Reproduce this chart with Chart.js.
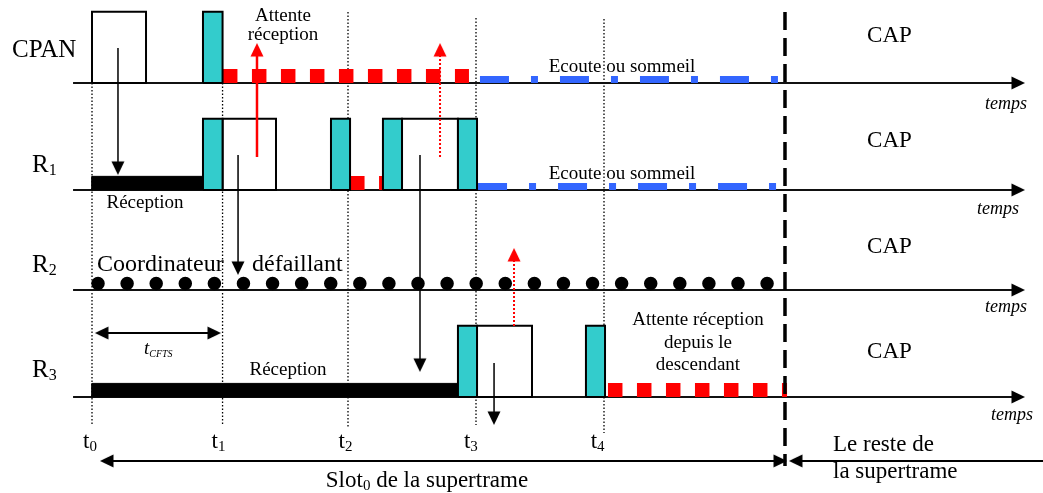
<!DOCTYPE html>
<html><head><meta charset="utf-8">
<script src="https://cdn.jsdelivr.net/npm/chart.js@4/dist/chart.umd.min.js"></script>
<style>html,body{margin:0;padding:0;background:#fff;overflow:hidden}canvas{display:block}</style>
</head><body>
<canvas id="c" width="1043" height="493"></canvas>
<script>
// ================= DATA (time in slot units, t0 = 0 ; vertical in lane units, R3 baseline = 0) =================
const laneNames   = ['CPAN', 'R1', 'R2', 'R3'];
const laneSubs    = ['', '1', '2', '3'];
const laneBase    = [3, 1.978, 1.022, 0];
const tickNames   = ['t', 't', 't', 't', 't'];
const tickSubs    = ['0', '1', '2', '3', '4'];
const tickTimes   = [0, 1.02, 2.0, 3.0, 4.0];
const tickTop     = [3.0, 3.0, 3.678, 3.621, 3.611];
const tickBottom  = [-0.277, -0.277, -0.287, -0.268, -0.344];
const tickLabelX  = [-0.016, 0.988, 1.98, 2.96, 3.95];
const slotEnd     = 5.414;
const axisStart   = -0.148, axisEnd = 7.289;
const boxHeight   = 0.68, barHeight = 0.13;

// [lane, start, end]
const transmitBoxes = [[0, 0, 0.422], [1, 1.02, 1.4375], [1, 2.422, 2.859], [3, 3.008, 3.4375]];
const beaconBoxes   = [[0, 0.867, 1.02], [1, 0.867, 1.02], [1, 1.867, 2.016], [1, 2.273, 2.422], [1, 2.859, 3.008], [3, 2.859, 3.008], [3, 3.859, 4.008]];
const receiveBars   = [[1, 0, 0.867], [3, 0, 2.859]];
const waitDashes    = [[0, 1.023, 2.945], [1, 2.016, 2.27], [3, 4.031, 5.43]];
const idleDashes    = [[0, 3.031, 5.359], [1, 3.016, 5.352]];
const failedDots    = [[2, 0.047, 5.28]];

// vertical message arrows: [time, from, to, colour, dotted]
const msgArrows = [
  [0.203, 3.334, 2.121, '#000', false],
  [1.141, 2.312, 1.166, '#000', false],
  [2.5625, 2.312, 0.239, '#000', false],
  [3.141, 0.325, -0.2675, '#000', false],
  [1.289, 2.293, 3.382, '#ff0000', false],
  [2.719, 2.293, 3.382, '#ff0000', true],
  [3.297, 0.678, 1.424, '#ff0000', true]
];
// horizontal span arrows: [from, to, y, headLeft, headRight]
const spanArrows = [
  [0.023, 1.008, 0.611, true, true],
  [0.0625, 5.43, -0.611, true, true],
  [5.445, 7.43, -0.611, true, false]
];

const capY    = [3.392, 2.388, 1.376, 0.373];
const tempsX  = [6.977, 6.914, 6.977, 7.023];
const tempsY  = [2.752, 1.748, 0.812, -0.220];

// free texts: [text parts, x, y, align, size, italic]
const notes = [
  [[['Attente']], 1.492, 3.592, 'center', 19, false],
  [[['réception']], 1.492, 3.411, 'center', 19, false],
  [[['Ecoute ou sommeil']], 4.141, 3.105, 'center', 19, false],
  [[['Ecoute ou sommeil']], 4.141, 2.083, 'center', 19, false],
  [[['Réception']], 0.414, 1.806, 'center', 19, false],
  [[['Coordinateur']], 0.039, 1.204, 'left', 24, false],
  [[['défaillant']], 1.25, 1.204, 'left', 24, false],
  [[['t'], ['CFTS', 10, 3]], 0.406, 0.411, 'left', 19, true],
  [[['Réception']], 1.531, 0.210, 'center', 19, false],
  [[['Attente réception']], 4.734, 0.688, 'center', 19, false],
  [[['depuis le']], 4.734, 0.468, 'center', 19, false],
  [[['descendant']], 4.734, 0.258, 'center', 19, false],
  [[['Slot'], ['0', 15, 3], [' de la supertrame']], 2.617, -0.860, 'center', 23, false],
  [[['Le reste de']], 5.789, -0.516, 'left', 23, false],
  [[['la supertrame']], 5.789, -0.774, 'left', 23, false]
];

// ================= RENDERING =================
const X_MIN = -0.71875, X_MAX = 7.4297, Y_MIN = -0.9172, Y_MAX = 3.7929;
const PX_X = 1043 / (X_MAX - X_MIN), PX_Y = 493 / (Y_MAX - Y_MIN);
const TEAL = '#33cccc', RED = '#ff0000', BLUE = '#3366ff';

function makeHead(color) {
  const c = document.createElement('canvas');
  c.width = 30; c.height = 30;
  const g = c.getContext('2d');
  g.fillStyle = color;
  g.beginPath(); g.moveTo(15, 15); g.lineTo(8.5, 28.5); g.lineTo(21.5, 28.5); g.closePath(); g.fill();
  return c;
}
const heads = { '#000': makeHead('#000'), '#ff0000': makeHead('#ff0000') };

const datasets = [];
function add(ds) {
  ds = Object.assign({ showLine: true, pointRadius: 0, pointHoverRadius: 0, fill: false, tension: 0,
    borderWidth: 1, borderColor: '#000', backgroundColor: 'rgba(0,0,0,0)', borderCapStyle: 'butt', clip: false }, ds);
  ds.order = -datasets.length;
  datasets.push(ds);
}
function seg(x0, y0, x1, y1, opts) { add(Object.assign({ data: [{ x: x0, y: y0 }, { x: x1, y: y1 }] }, opts)); }
function rect(x0, x1, y0, h, color, bw) {
  add({ data: [{ x: x0, y: y0 }, { x: x1, y: y0 }, { x: x1, y: y0 + h }, { x: x0, y: y0 + h }, { x: x0, y: y0 }],
    fill: 'shape', backgroundColor: color, borderColor: '#000', borderWidth: bw, borderJoinStyle: 'miter' });
}
function head(x, y, rot, color) {
  add({ showLine: false, data: [{ x, y }], pointStyle: heads[color], rotation: rot, pointRadius: 6 });
}

// vertical dotted tick lines
tickTimes.forEach((t, i) => seg(t, tickTop[i], t, tickBottom[i], { borderWidth: 1.3, borderDash: [1.5, 2], borderColor: '#000' }));
// time axes
laneBase.forEach(b => { seg(axisStart, b, axisEnd - 8 / PX_X, b, { borderWidth: 2, borderColor: '#111' }); head(axisEnd, b, 90, '#000'); });
// waiting (red), idle (blue), failed (dots)
waitDashes.forEach(([l, a, e]) => seg(a, laneBase[l] + 7 / PX_Y, e, laneBase[l] + 7 / PX_Y, { borderWidth: 14, borderColor: RED, borderDash: [14.5, 14.5] }));
idleDashes.forEach(([l, a, e]) => seg(a, laneBase[l] + 3.5 / PX_Y, e, laneBase[l] + 3.5 / PX_Y, { borderWidth: 7, borderColor: BLUE, borderDash: [29, 22, 7, 22] }));
failedDots.forEach(([l, a, e]) => seg(a, laneBase[l] + 6.5 / PX_Y, e, laneBase[l] + 6.5 / PX_Y, { borderWidth: 13.5, borderColor: '#000', borderDash: [0, 29.09], borderCapStyle: 'round' }));
// receive bars, boxes
receiveBars.forEach(([l, a, e]) => rect(a, e, laneBase[l], barHeight, '#000', 1));
transmitBoxes.forEach(([l, a, e]) => rect(a, e, laneBase[l], boxHeight, '#ffffff', 2));
beaconBoxes.forEach(([l, a, e]) => rect(a, e, laneBase[l], boxHeight, TEAL, 2));
// end of slot 0
seg(slotEnd, Y_MAX - 12 / PX_Y, slotEnd, -0.659, { borderWidth: 3.5, borderColor: '#000', borderDash: [18, 8] });
// message arrows
msgArrows.forEach(([t, a, e, col, dotted]) => {
  const dir = e > a ? 1 : -1;
  seg(t, a, t, e - dir * 6 / PX_Y, { borderWidth: col === '#000' ? 1.5 : (dotted ? 2 : 2.5), borderColor: col, borderDash: dotted ? [2, 2] : [] });
  head(t, e, dir > 0 ? 0 : 180, col);
});
// span arrows
spanArrows.forEach(([a, e, y, hl, hr]) => {
  seg(a + (hl ? 6 / PX_X : 0), y, e - (hr ? 6 / PX_X : 0), y, { borderWidth: 2, borderColor: '#000' });
  if (hl) head(a, y, 270, '#000');
  if (hr) head(e, y, 90, '#000');
});

// ---- text plugin ----
const SERIF = '"Liberation Serif", "Times New Roman", "DejaVu Serif", serif';
function drawParts(ctx, parts, px, py, align, size, italic) {
  const fontOf = s => (italic ? 'italic ' : '') + s + 'px ' + SERIF;
  let w = 0;
  parts.forEach(p => { ctx.font = fontOf(p[1] || size); w += ctx.measureText(p[0]).width; });
  let cx = align === 'center' ? px - w / 2 : align === 'right' ? px - w : px;
  ctx.textAlign = 'left'; ctx.textBaseline = 'alphabetic'; ctx.fillStyle = '#000';
  parts.forEach(p => {
    ctx.font = fontOf(p[1] || size);
    ctx.fillText(p[0], cx, py + (p[2] || 0));
    cx += ctx.measureText(p[0]).width;
  });
}
const textPlugin = {
  id: 'texts',
  afterDatasetsDraw(chart) {
    const { ctx, scales: { x, y } } = chart;
    ctx.save();
    const laneLabelX = [-0.625, -0.469, -0.469, -0.469];
    const laneLabelY = [3.248, 2.150, 1.194, 0.191];
    laneNames.forEach((n, i) => {
      const parts = laneSubs[i] ? [[n === 'CPAN' ? n : 'R'], [laneSubs[i], 16, 3]] : [[n]];
      drawParts(ctx, parts, x.getPixelForValue(laneLabelX[i]), y.getPixelForValue(laneLabelY[i]), 'left', 25, false);
    });
    capY.forEach(v => drawParts(ctx, [['CAP']], x.getPixelForValue(6.055), y.getPixelForValue(v), 'left', 23, false));
    tempsY.forEach((v, i) => drawParts(ctx, [['temps']], x.getPixelForValue(tempsX[i]), y.getPixelForValue(v), 'left', 18, true));
    tickNames.forEach((n, i) => drawParts(ctx, [[n], [tickSubs[i], 15, 3]], x.getPixelForValue(tickLabelX[i]), y.getPixelForValue(-0.487), 'center', 23, false));
    notes.forEach(([parts, nx, ny, al, sz, it]) => drawParts(ctx, parts, x.getPixelForValue(nx), y.getPixelForValue(ny), al, sz, it));
    ctx.restore();
  }
};

new Chart(document.getElementById('c'), {
  type: 'scatter',
  data: { datasets },
  options: {
    responsive: false, animation: false, devicePixelRatio: 1,
    layout: { padding: 0, autoPadding: false },
    plugins: { legend: { display: false }, tooltip: { enabled: false } },
    events: [],
    scales: {
      x: { type: 'linear', min: X_MIN, max: X_MAX, display: false },
      y: { type: 'linear', min: Y_MIN, max: Y_MAX, display: false }
    }
  },
  plugins: [textPlugin]
});
</script>
</body></html>
